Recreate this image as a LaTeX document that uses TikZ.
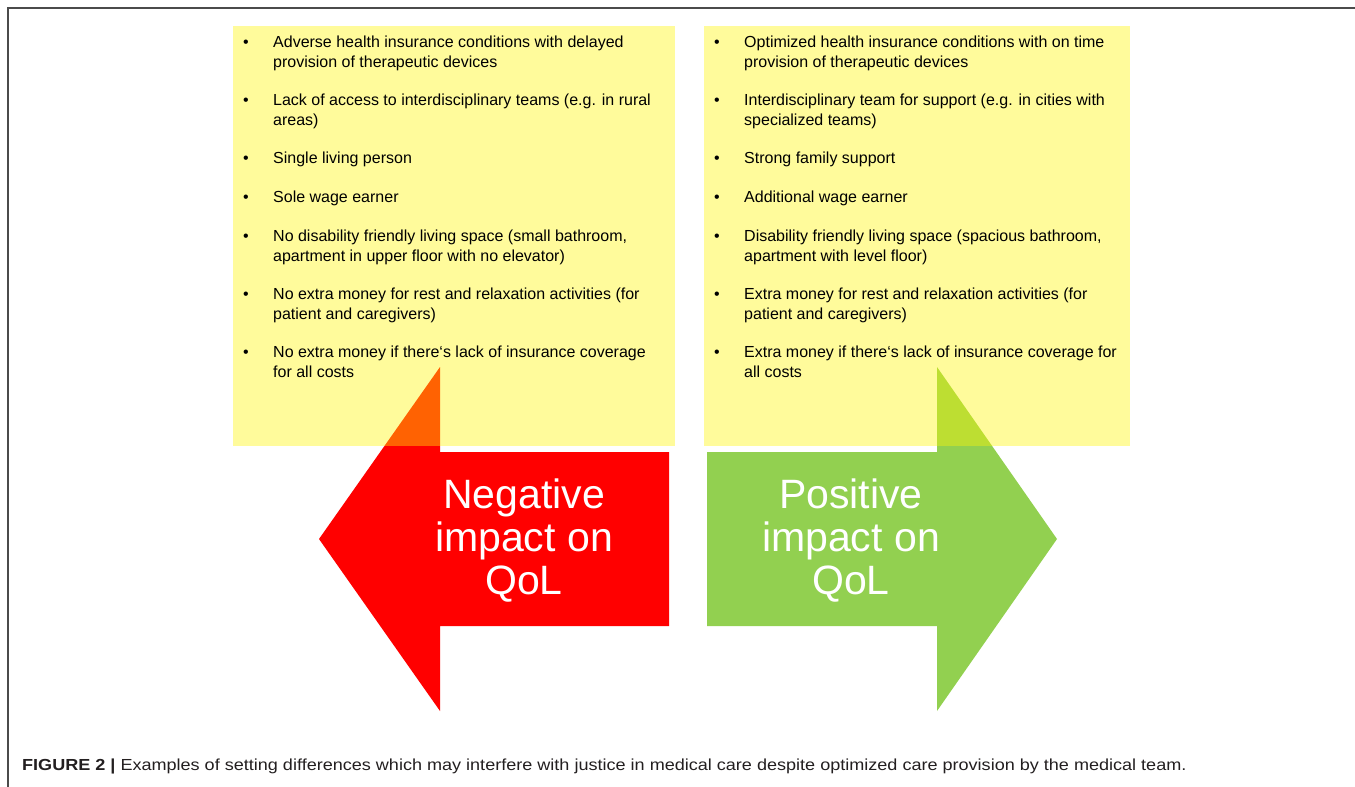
\documentclass[tikz,border=0pt]{standalone}
\usepackage{fontspec}
\setmainfont{Liberation Sans}
\newfontfamily\capfont[FakeStretch=1.128]{Liberation Sans}
\usetikzlibrary{positioning}

\definecolor{negred}{RGB}{255,0,0}
\definecolor{posgreen}{RGB}{146,208,80}
\definecolor{notepad}{RGB}{255,245,5}
\definecolor{framegray}{RGB}{75,75,75}
\definecolor{captext}{RGB}{35,31,32}

\begin{document}
\begin{tikzpicture}[x=1pt, y=-1pt,
    notebox/.style={fill=notepad, fill opacity=0.4, text opacity=1, inner sep=0pt, anchor=north west},
    dot/.style={inner sep=0pt, anchor=north west, font=\fontsize{16}{19.5}\selectfont},
    itemtext/.style={inner sep=0pt, anchor=north west, align=left, font=\fontsize{16}{19.5}\selectfont},
    impact/.style={inner sep=0pt, align=center, text=white, font=\fontsize{41}{43}\selectfont}]

    \useasboundingbox (0,0) rectangle (1355,787);

    % frame
    \draw[framegray, line width=1.5pt] (8,787) -- (8,8) -- (1355,8);

    % arrows
    \fill[negred] (669,452) -- (440,452) -- (440,367) -- (319,539) -- (440,711) -- (440,626) -- (669,626) -- cycle;
    \fill[posgreen] (707,452) -- (937,452) -- (937,367) -- (1057,539) -- (937,711) -- (937,626) -- (707,626) -- cycle;
    \node [impact] (neg) at (524,541) {Negative\\impact on\\QoL};
    \node [impact] (pos) at (851,541) {Positive\\impact on\\QoL};

    % yellow notes on top
    \node [notebox, minimum width=442pt, minimum height=420pt] (negbox) at (233,26) {};
    \node [notebox, minimum width=426pt, minimum height=420pt] (posbox) at (704,26) {};

    % left list
    \foreach \ypos/\txt [count=\i] in {
        41/{Adverse health insurance conditions with delayed\\provision of therapeutic devices},
        99/{Lack of access to interdisciplinary teams (e.g. in rural\\areas)},
        157/{Single living person},
        196/{Sole wage earner},
        235/{No disability friendly living space (small bathroom,\\apartment in upper floor with no elevator)},
        293/{No extra money for rest and relaxation activities (for\\patient and caregivers)},
        351/{No extra money if there‘s lack of insurance coverage\\for all costs}} {
        \node [dot] (negdot\i) at (243,\ypos-7) {\strut•};
        \node [itemtext] (negitem\i) at (273,\ypos-7) {\strut\txt};
    }

    % right list
    \foreach \ypos/\txt [count=\i] in {
        41/{Optimized health insurance conditions with on time\\provision of therapeutic devices},
        99/{Interdisciplinary team for support (e.g. in cities with\\specialized teams)},
        157/{Strong family support},
        196/{Additional wage earner},
        235/{Disability friendly living space (spacious bathroom,\\apartment with level floor)},
        293/{Extra money for rest and relaxation activities (for\\patient and caregivers)},
        351/{Extra money if there‘s lack of insurance coverage for\\all costs}} {
        \node [dot] (posdot\i) at (714,\ypos-7) {\strut•};
        \node [itemtext] (positem\i) at (744,\ypos-7) {\strut\txt};
    }

    % caption
    \node [inner sep=0pt, anchor=base west, text=captext, font=\capfont\fontsize{16}{19}\selectfont] (caption) at (22,770)
        {\textbf{FIGURE 2 |} Examples of setting differences which may interfere with justice in medical care despite optimized care provision by the medical team.};
\end{tikzpicture}
\end{document}
